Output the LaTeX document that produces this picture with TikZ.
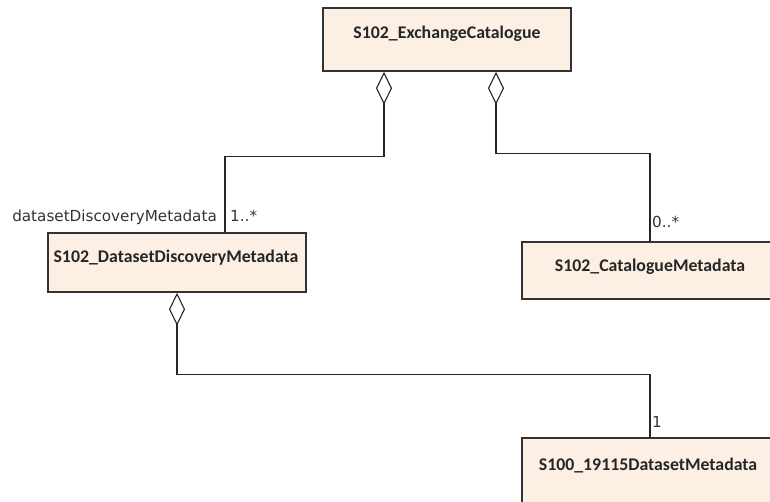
\documentclass[tikz,border=0pt]{standalone}
\usepackage{fontspec}
\setmainfont{Carlito}
\newfontfamily\labelfont{DejaVu Sans}
\usetikzlibrary{arrows.meta}
\definecolor{boxfill}{HTML}{FBF0E3}
\definecolor{boxline}{HTML}{333333}
\tikzset{
  classbox/.style={draw=boxline, line width=1.5pt, fill=boxfill, rectangle, inner sep=0pt},
  classname/.style={font=\fontsize{17.8}{19}\selectfont\bfseries, text=black!85, inner sep=0pt},
  agg/.style={draw=black!85, line width=1.3pt, {Diamond[open, length=33pt, width=16pt, line width=1.1pt]}-},
  rolelabel/.style={font=\labelfont\fontsize{15.2}{17}\selectfont, text=black!80, inner sep=0pt},
}
\begin{document}
\begin{tikzpicture}[x=1pt, y=-1pt]
\useasboundingbox (0,0) rectangle (770,502);
% boxes
\node[classbox, minimum width=248pt, minimum height=63pt] (ec) at (447,39.5) {};
\node[classbox, minimum width=258pt, minimum height=59pt] (ddm) at (177,262.5) {};
\node[classbox, minimum width=256pt, minimum height=57pt] (cm) at (650,270.5) {};
\node[classbox, minimum width=256pt, minimum height=80pt] (dm) at (650,478) {};
% names
\node[classname] (ectext) at (447,34) {S102\_ExchangeCatalogue};
\node[classname] (ddmtext) at (176,258) {S102\_DatasetDiscoveryMetadata};
\node[classname] (cmtext) at (650,267) {S102\_CatalogueMetadata};
\node[classname] (dmtext) at (648,465) {S100\_19115DatasetMetadata};
% connectors
\draw[agg] ([xshift=-63pt]ec.south) -- ++(0,85) -| ([xshift=48pt]ddm.north);
\draw[agg] ([xshift=49pt]ec.south) -- ++(0,82) -| (cm.north);
\draw[agg] (ddm.south) -- ++(0,82) -| (dm.north);
% labels
\node[rolelabel, anchor=east] (role) at (217,217) {datasetDiscoveryMetadata};
\node[rolelabel, anchor=west] (m1) at (230,216) {1..*};
\node[rolelabel, anchor=west] (m2) at (652,222) {0..*};
\node[rolelabel, anchor=west] (m3) at (652,422) {1};
\end{tikzpicture}
\end{document}
